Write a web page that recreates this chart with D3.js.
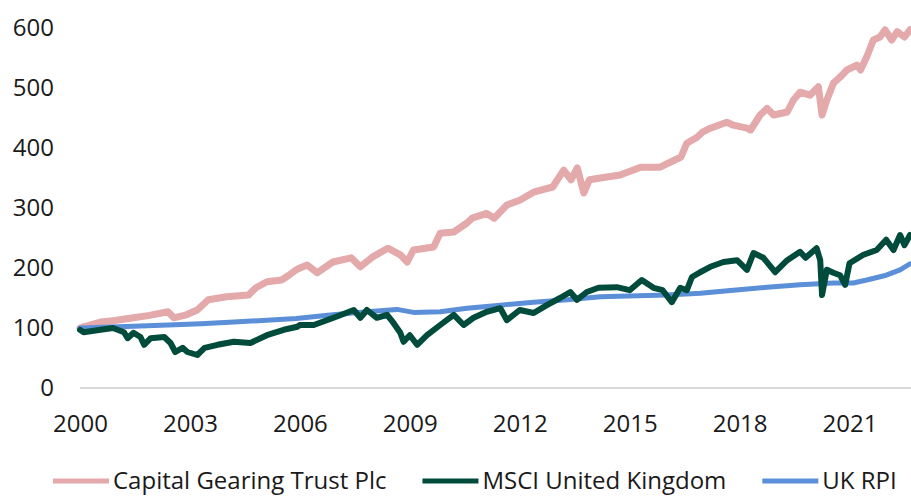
<!DOCTYPE html>
<html>
<head>
<meta charset="utf-8">
<script src="https://cdn.jsdelivr.net/npm/d3@7"></script>
<style>
  body { margin: 0; background: #fff; }
  svg, svg text { font-family: "Open Sans", sans-serif; }
  .axis text { font-size: 24px; fill: #1a1a1a; font-family: "Open Sans", sans-serif; }
</style>
</head>
<body>
<script>
// data (decimal years, rebased to 100)
var cgtYears = [2000.0, 2000.1, 2000.56, 2000.9, 2001.46, 2001.9, 2002.4, 2002.56, 2002.9, 2003.2, 2003.5, 2004.0, 2004.6, 2004.8, 2005.1, 2005.5, 2005.7, 2005.9,
  2006.0, 2006.2, 2006.47, 2006.9, 2007.4, 2007.65, 2008.0, 2008.4, 2008.74, 2008.93, 2009.1, 2009.65, 2009.83, 2010.2, 2010.56, 2010.7, 2011.1, 2011.3, 2011.65,
  2012.0, 2012.4, 2012.9, 2013.2, 2013.4, 2013.57, 2013.75, 2013.9, 2014.2, 2014.74, 2015.3, 2015.83, 2016.4, 2016.56, 2016.84, 2017.0, 2017.2, 2017.65, 2017.83,
  2018.2, 2018.3, 2018.56, 2018.75, 2018.93, 2019.3, 2019.47, 2019.65, 2019.92, 2020.15, 2020.25, 2020.38, 2020.56, 2020.74, 2020.93, 2021.2, 2021.3, 2021.47,
  2021.65, 2021.83, 2021.97, 2022.15, 2022.3, 2022.5, 2022.65];
var cgtValues = [100, 102, 110, 112, 117, 121, 127, 117, 122, 130, 147, 152, 155, 167, 177, 180, 188, 197,
  200, 205, 192, 210, 217, 202, 219, 233, 222, 210, 230, 235, 258, 260, 275, 283, 291, 283, 305,
  313, 327, 335, 363, 347, 367, 325, 347, 350, 355, 368, 368, 385, 408, 418, 427, 433, 443, 438,
  433, 430, 455, 466, 455, 460, 480, 493, 488, 502, 455, 480, 508, 518, 530, 538, 530, 552,
  580, 585, 597, 580, 594, 585, 597];

var msciYears = [2000.0, 2000.1, 2000.56, 2000.9, 2001.2, 2001.3, 2001.46, 2001.65, 2001.75, 2001.93, 2002.3, 2002.47, 2002.6, 2002.8, 2002.93, 2003.2, 2003.4,
  2003.75, 2004.2, 2004.65, 2005.1, 2005.56, 2005.93, 2006.0, 2006.38, 2006.92, 2007.47, 2007.65, 2007.83, 2008.1, 2008.38, 2008.56, 2008.74, 2008.83, 2009.0,
  2009.2, 2009.47, 2009.83, 2010.2, 2010.47, 2010.74, 2011.1, 2011.47, 2011.65, 2012.0, 2012.38, 2012.74, 2013.1, 2013.38, 2013.56, 2013.83, 2014.15, 2014.65,
  2015.0, 2015.33, 2015.65, 2015.9, 2016.15, 2016.38, 2016.56, 2016.7, 2016.93, 2017.2, 2017.56, 2017.93, 2018.2, 2018.38, 2018.65, 2018.97, 2019.3, 2019.65,
  2019.8, 2020.1, 2020.2, 2020.25, 2020.38, 2020.56, 2020.74, 2020.88, 2021.0, 2021.38, 2021.74, 2022.0, 2022.2, 2022.38, 2022.5, 2022.65];
var msciValues = [97, 93, 97, 100, 93, 83, 92, 85, 72, 83, 85, 75, 60, 67, 60, 55, 67,
  72, 77, 75, 88, 97, 102, 105, 105, 117, 130, 117, 130, 117, 122, 108, 92, 77, 88,
  72, 88, 105, 122, 105, 117, 127, 133, 113, 130, 125, 138, 150, 160, 147, 160, 167, 168,
  163, 180, 167, 163, 143, 167, 163, 185, 193, 202, 210, 213, 197, 225, 217, 193, 213, 227,
  217, 233, 213, 155, 197, 192, 188, 172, 208, 222, 230, 247, 230, 255, 238, 255];

var rpiYears = [2000.0, 2001.46, 2002.4, 2003.3, 2004.2, 2005.1, 2005.9, 2006.9, 2007.83, 2008.65, 2009.1, 2009.83, 2010.56, 2011.47, 2012.38, 2013.3, 2014.2,
  2016.0, 2016.93, 2017.83, 2018.75, 2019.65, 2020.56, 2021.1, 2021.47, 2022.0, 2022.38, 2022.65];
var rpiValues = [100, 103, 105, 107, 110, 113, 116, 122, 127, 131, 126, 127, 133, 138, 143, 147, 152,
  155, 158, 163, 168, 172, 175, 175, 180, 188, 197, 207];

var seriesNames = ["Capital Gearing Trust Plc", "MSCI United Kingdom", "UK RPI"];
var seriesColors = ["#e4a9ab", "#004b3b", "#5b8fd8"];
var xTicks = [2000, 2003, 2006, 2009, 2012, 2015, 2018, 2021];
var yTicks = [0, 100, 200, 300, 400, 500, 600];

var W = 911, H = 496;
var plotLeft = 80, plotRight = 911, plotTop = 28, plotBottom = 388;

var svg = d3.select("body").append("svg").attr("width", W).attr("height", H);

var x = d3.scaleLinear().domain([2000, 2022.65]).range([plotLeft, plotRight - 1]);
var y = d3.scaleLinear().domain([0, 600]).range([plotBottom, plotTop]);

// y axis labels, no line
var yAxis = svg.append("g").attr("class", "axis")
  .attr("transform", "translate(" + plotLeft + ",0)")
  .call(d3.axisLeft(y).tickValues(yTicks).tickSize(0).tickPadding(26));
yAxis.select(".domain").remove();

// x axis with light baseline
var xAxis = svg.append("g").attr("class", "axis")
  .attr("transform", "translate(0," + plotBottom + ")")
  .call(d3.axisBottom(x).tickValues(xTicks).tickFormat(d3.format("d")).tickSize(0).tickPadding(27));
xAxis.select(".domain").remove();
svg.append("line")
  .attr("x1", plotLeft).attr("x2", W).attr("y1", plotBottom).attr("y2", plotBottom)
  .attr("stroke", "#d9d9d9").attr("stroke-width", 2);

var line = d3.line()
  .x(function (d) { return x(d[0]); })
  .y(function (d) { return y(d[1]); });

var series = [
  { years: cgtYears, values: cgtValues, width: 7 },
  { years: msciYears, values: msciValues, width: 6 },
  { years: rpiYears, values: rpiValues, width: 5 }
];

// draw pink first, then green, then blue on top
[0, 2, 1].forEach(function (i) {
  var s = series[i];
  var pts = s.years.map(function (yr, k) { return [yr, s.values[k]]; });
  svg.append("path")
    .datum(pts)
    .attr("d", line)
    .attr("fill", "none")
    .attr("stroke", seriesColors[i])
    .attr("stroke-width", s.width)
    .attr("stroke-linejoin", "round")
    .attr("stroke-linecap", "round");
});

// legend: items laid out one after another
var legend = svg.append("g").attr("transform", "translate(0,481)");
var cursor = 53;
seriesNames.forEach(function (name, i) {
  legend.append("line")
    .attr("x1", cursor).attr("x2", cursor + 56)
    .attr("y1", 0).attr("y2", 0)
    .attr("stroke", seriesColors[i]).attr("stroke-width", 5);
  var t = legend.append("text")
    .attr("x", cursor + 60).attr("y", 0).attr("dy", "0.35em")
    .attr("font-size", 24).attr("fill", "#1a1a1a")
    .text(name);
  cursor += 60 + t.node().getComputedTextLength() + 36;
});
</script>
</body>
</html>
